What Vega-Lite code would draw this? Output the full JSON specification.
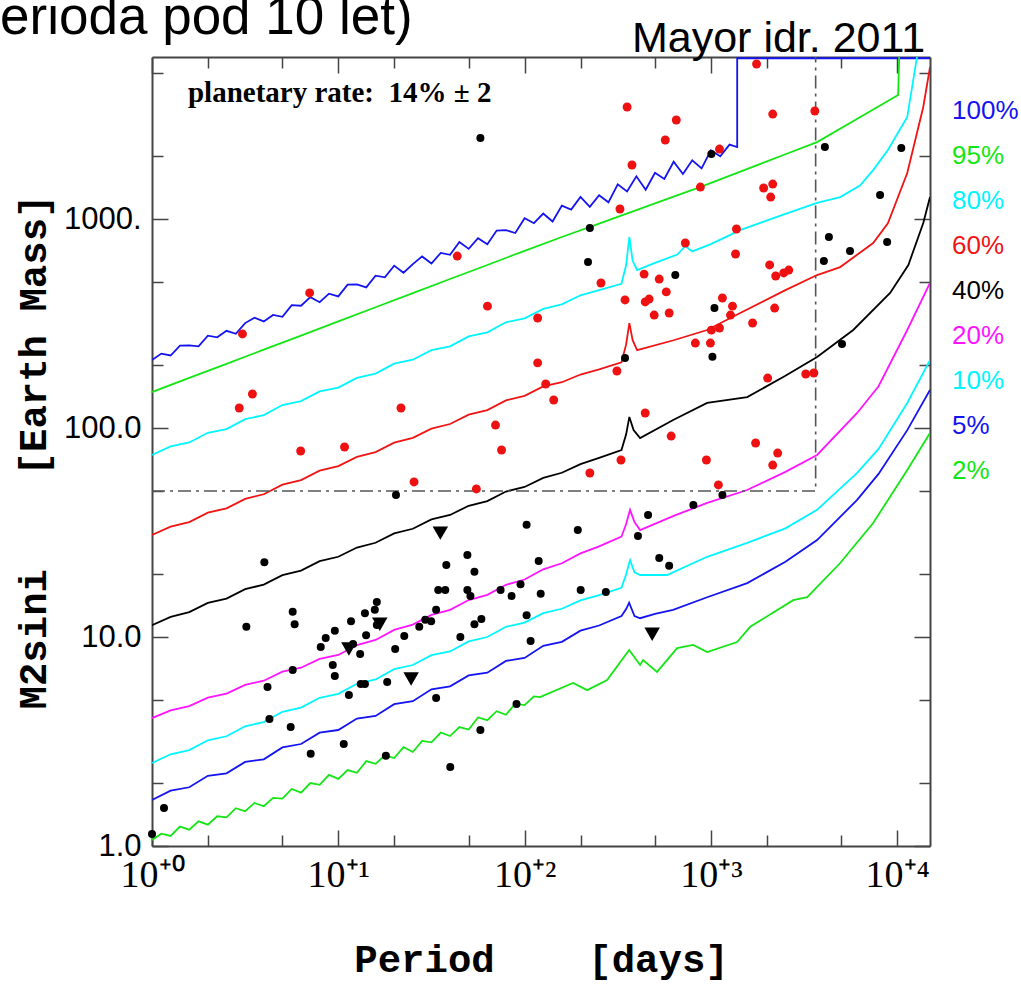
{
  "$schema": "https://vega.github.io/schema/vega-lite/v6.json",
  "width": 778,
  "height": 789,
  "autosize": {"type": "none"},
  "padding": {"left": 152, "top": 57, "right": 91, "bottom": 138},
  "background": "white",
  "config": {"view": {"stroke": null}, "font": "Liberation Sans"},
  "datasets": {
    "curves": [
      {"level":"100%","i":0,"period":1,"mass":211.3},{"level":"100%","i":1,"period":1.122,"mass":227.0},{"level":"100%","i":2,"period":1.259,"mass":222.3},{"level":"100%","i":3,"period":1.413,"mass":247.7},{"level":"100%","i":4,"period":1.585,"mass":248.3},{"level":"100%","i":5,"period":1.778,"mass":246.0},{"level":"100%","i":6,"period":1.995,"mass":276.7},{"level":"100%","i":7,"period":2.239,"mass":271.6},{"level":"100%","i":8,"period":2.512,"mass":291.7},{"level":"100%","i":9,"period":2.818,"mass":282.5},
      {"level":"100%","i":10,"period":3.162,"mass":317.7},{"level":"100%","i":11,"period":3.548,"mass":337.3},{"level":"100%","i":12,"period":3.981,"mass":323.6},{"level":"100%","i":13,"period":4.467,"mass":347.5},{"level":"100%","i":14,"period":5.012,"mass":340.4},{"level":"100%","i":15,"period":5.623,"mass":387.3},{"level":"100%","i":16,"period":6.31,"mass":384.6},{"level":"100%","i":17,"period":7.079,"mass":422.7},{"level":"100%","i":18,"period":7.943,"mass":399.9},{"level":"100%","i":19,"period":8.913,"mass":439.5},
      {"level":"100%","i":20,"period":10,"mass":426.6},{"level":"100%","i":21,"period":11.22,"mass":485.3},{"level":"100%","i":22,"period":12.59,"mass":486.4},{"level":"100%","i":23,"period":14.13,"mass":471.0},{"level":"100%","i":24,"period":15.85,"mass":535.8},{"level":"100%","i":25,"period":17.78,"mass":526.0},{"level":"100%","i":26,"period":19.95,"mass":598.4},{"level":"100%","i":27,"period":22.39,"mass":553.4},{"level":"100%","i":28,"period":25.12,"mass":608.1},{"level":"100%","i":29,"period":28.18,"mass":662.2},
      {"level":"100%","i":30,"period":31.62,"mass":612.4},{"level":"100%","i":31,"period":35.48,"mass":688.6},{"level":"100%","i":32,"period":39.81,"mass":674.5},{"level":"100%","i":33,"period":44.67,"mass":776.2},{"level":"100%","i":34,"period":50.12,"mass":719.5},{"level":"100%","i":35,"period":56.23,"mass":809.1},{"level":"100%","i":36,"period":63.1,"mass":756.8},{"level":"100%","i":37,"period":70.79,"mass":881.0},{"level":"100%","i":38,"period":79.43,"mass":885.1},{"level":"100%","i":39,"period":89.13,"mass":857.0},
      {"level":"100%","i":40,"period":100,"mass":1009},{"level":"100%","i":41,"period":112.2,"mass":955.0},{"level":"100%","i":42,"period":125.9,"mass":1062},{"level":"100%","i":43,"period":141.3,"mass":972.7},{"level":"100%","i":44,"period":158.5,"mass":1159},{"level":"100%","i":45,"period":177.8,"mass":1109},{"level":"100%","i":46,"period":199.5,"mass":1276},{"level":"100%","i":47,"period":223.9,"mass":1143},{"level":"100%","i":48,"period":251.2,"mass":1300},{"level":"100%","i":49,"period":281.8,"mass":1202},
      {"level":"100%","i":50,"period":316.2,"mass":1466},{"level":"100%","i":51,"period":354.8,"mass":1355},{"level":"100%","i":52,"period":398.1,"mass":1600},{"level":"100%","i":53,"period":446.7,"mass":1380},{"level":"100%","i":54,"period":501.2,"mass":1663},{"level":"100%","i":55,"period":562.3,"mass":1556},{"level":"100%","i":56,"period":631,"mass":1879},{"level":"100%","i":57,"period":707.9,"mass":1641},{"level":"100%","i":58,"period":794.3,"mass":1910},{"level":"100%","i":59,"period":891.3,"mass":1746},
      {"level":"100%","i":60,"period":1000,"mass":2133},{"level":"100%","i":61,"period":1122,"mass":1995},{"level":"100%","i":62,"period":1259,"mass":2270},{"level":"100%","i":63,"period":1384,"mass":2208},{"level":"100%","i":64,"period":1384,"mass":5880},{"level":"100%","i":65,"period":15000,"mass":5880},

      {"level":"95%","i":0,"period":1,"mass":148.6},{"level":"95%","i":1,"period":1.585,"mass":173.8},{"level":"95%","i":2,"period":2.512,"mass":202.8},{"level":"95%","i":3,"period":3.981,"mass":237.1},{"level":"95%","i":4,"period":6.31,"mass":276.7},{"level":"95%","i":5,"period":10,"mass":323.6},{"level":"95%","i":6,"period":15.85,"mass":378.4},{"level":"95%","i":7,"period":25.12,"mass":441.6},{"level":"95%","i":8,"period":39.81,"mass":516.4},{"level":"95%","i":9,"period":63.1,"mass":602.6},
      {"level":"95%","i":10,"period":100,"mass":704.7},{"level":"95%","i":11,"period":158.5,"mass":820.4},{"level":"95%","i":12,"period":251.2,"mass":950.6},{"level":"95%","i":13,"period":398.1,"mass":1104},{"level":"95%","i":14,"period":631,"mass":1279},{"level":"95%","i":15,"period":875,"mass":1422},{"level":"95%","i":16,"period":1585,"mass":1742},{"level":"95%","i":17,"period":2512,"mass":2042},{"level":"95%","i":18,"period":3715,"mass":2333},{"level":"95%","i":19,"period":6310,"mass":3069},
      {"level":"95%","i":20,"period":10120,"mass":3917},{"level":"95%","i":21,"period":10250,"mass":5960},

      {"level":"80%","i":0,"period":1,"mass":74.3},{"level":"80%","i":1,"period":1.259,"mass":81.66},{"level":"80%","i":2,"period":1.585,"mass":85.31},{"level":"80%","i":3,"period":1.995,"mass":94.84},{"level":"80%","i":4,"period":2.512,"mass":98.86},{"level":"80%","i":5,"period":3.162,"mass":110.2},{"level":"80%","i":6,"period":3.981,"mass":115.3},{"level":"80%","i":7,"period":5.012,"mass":128.8},{"level":"80%","i":8,"period":6.31,"mass":134.6},{"level":"80%","i":9,"period":7.943,"mass":149.6},
      {"level":"80%","i":10,"period":10,"mass":156.0},{"level":"80%","i":11,"period":12.59,"mass":173.8},{"level":"80%","i":12,"period":15.85,"mass":182.0},{"level":"80%","i":13,"period":19.95,"mass":203.2},{"level":"80%","i":14,"period":25.12,"mass":212.3},{"level":"80%","i":15,"period":31.62,"mass":236.0},{"level":"80%","i":16,"period":39.81,"mass":246.0},{"level":"80%","i":17,"period":50.12,"mass":274.2},{"level":"80%","i":18,"period":63.1,"mass":287.1},{"level":"80%","i":19,"period":79.43,"mass":320.6},
      {"level":"80%","i":20,"period":100,"mass":335.0},{"level":"80%","i":21,"period":125.9,"mass":371.5},{"level":"80%","i":22,"period":158.5,"mass":390.8},{"level":"80%","i":23,"period":199.5,"mass":431.5},{"level":"80%","i":24,"period":251.2,"mass":457.1},{"level":"80%","i":25,"period":331.1,"mass":489.8},{"level":"80%","i":26,"period":350.8,"mass":602.6},{"level":"80%","i":27,"period":365,"mass":820.4},{"level":"80%","i":28,"period":380.2,"mass":631.0},{"level":"80%","i":29,"period":401.8,"mass":570.2},
      {"level":"80%","i":30,"period":501.2,"mass":616.6},{"level":"80%","i":31,"period":660.7,"mass":676.1},{"level":"80%","i":32,"period":729.5,"mass":743.0},{"level":"80%","i":33,"period":794.3,"mass":699.8},{"level":"80%","i":34,"period":1000,"mass":758.6},{"level":"80%","i":35,"period":1436,"mass":885.1},{"level":"80%","i":36,"period":2512,"mass":1059},{"level":"80%","i":37,"period":3715,"mass":1194},{"level":"80%","i":38,"period":4943,"mass":1274},{"level":"80%","i":39,"period":6310,"mass":1445},
      {"level":"80%","i":40,"period":7430,"mass":1714},{"level":"80%","i":41,"period":8913,"mass":2138},{"level":"80%","i":42,"period":11324,"mass":3076},{"level":"80%","i":43,"period":12794,"mass":6026},

      {"level":"60%","i":0,"period":1,"mass":30.76},{"level":"60%","i":1,"period":1.259,"mass":33.73},{"level":"60%","i":2,"period":1.585,"mass":35.48},{"level":"60%","i":3,"period":1.995,"mass":39.36},{"level":"60%","i":4,"period":2.512,"mass":41.3},{"level":"60%","i":5,"period":3.162,"mass":45.81},{"level":"60%","i":6,"period":3.981,"mass":48.19},{"level":"60%","i":7,"period":5.012,"mass":53.58},{"level":"60%","i":8,"period":6.31,"mass":56.36},{"level":"60%","i":9,"period":7.943,"mass":62.52},
      {"level":"60%","i":10,"period":10,"mass":65.77},{"level":"60%","i":11,"period":12.59,"mass":72.78},{"level":"60%","i":12,"period":15.85,"mass":76.74},{"level":"60%","i":13,"period":19.95,"mass":85.11},{"level":"60%","i":14,"period":25.12,"mass":89.74},{"level":"60%","i":15,"period":31.62,"mass":99.31},{"level":"60%","i":16,"period":39.81,"mass":104.5},{"level":"60%","i":17,"period":50.12,"mass":115.9},{"level":"60%","i":18,"period":63.1,"mass":121.9},{"level":"60%","i":19,"period":79.43,"mass":135.5},
      {"level":"60%","i":20,"period":100,"mass":142.6},{"level":"60%","i":21,"period":125.9,"mass":158.1},{"level":"60%","i":22,"period":158.5,"mass":165.6},{"level":"60%","i":23,"period":199.5,"mass":180.3},{"level":"60%","i":24,"period":251.2,"mass":191.0},{"level":"60%","i":25,"period":331.1,"mass":206.1},{"level":"60%","i":26,"period":350.8,"mass":251.2},{"level":"60%","i":27,"period":365,"mass":317.7},{"level":"60%","i":28,"period":380.2,"mass":263.0},{"level":"60%","i":29,"period":401.8,"mass":236.0},
      {"level":"60%","i":30,"period":631,"mass":263.0},{"level":"60%","i":31,"period":955,"mass":294.4},{"level":"60%","i":32,"period":1436,"mass":354.8},{"level":"60%","i":33,"period":2512,"mass":457.1},{"level":"60%","i":34,"period":3715,"mass":539.5},{"level":"60%","i":35,"period":4943,"mass":588.8},{"level":"60%","i":36,"period":7430,"mass":767.4},{"level":"60%","i":37,"period":8913,"mass":955},{"level":"60%","i":38,"period":11324,"mass":1660},{"level":"60%","i":39,"period":13804,"mass":3436},
      {"level":"60%","i":40,"period":15000,"mass":5333},

      {"level":"40%","i":0,"period":1,"mass":11.4},{"level":"40%","i":1,"period":1.259,"mass":12.47},{"level":"40%","i":2,"period":1.585,"mass":13.15},{"level":"40%","i":3,"period":1.995,"mass":14.55},{"level":"40%","i":4,"period":2.512,"mass":15.28},{"level":"40%","i":5,"period":3.162,"mass":16.94},{"level":"40%","i":6,"period":3.981,"mass":17.82},{"level":"40%","i":7,"period":5.012,"mass":19.77},{"level":"40%","i":8,"period":6.31,"mass":20.8},{"level":"40%","i":9,"period":7.943,"mass":23.07},
      {"level":"40%","i":10,"period":10,"mass":24.21},{"level":"40%","i":11,"period":12.59,"mass":26.79},{"level":"40%","i":12,"period":15.85,"mass":28.25},{"level":"40%","i":13,"period":19.95,"mass":31.33},{"level":"40%","i":14,"period":25.12,"mass":32.96},{"level":"40%","i":15,"period":31.62,"mass":36.56},{"level":"40%","i":16,"period":39.81,"mass":38.37},{"level":"40%","i":17,"period":50.12,"mass":42.46},{"level":"40%","i":18,"period":63.1,"mass":44.67},{"level":"40%","i":19,"period":79.43,"mass":49.66},
      {"level":"40%","i":20,"period":100,"mass":52.24},{"level":"40%","i":21,"period":125.9,"mass":57.68},{"level":"40%","i":22,"period":158.5,"mass":61.09},{"level":"40%","i":23,"period":199.5,"mass":67.14},{"level":"40%","i":24,"period":251.2,"mass":71.94},{"level":"40%","i":25,"period":331.1,"mass":78.5},{"level":"40%","i":26,"period":350.8,"mass":93.3},{"level":"40%","i":27,"period":365,"mass":113.0},{"level":"40%","i":28,"period":384.6,"mass":97.7},{"level":"40%","i":29,"period":416.9,"mass":89.5},
      {"level":"40%","i":30,"period":631,"mass":109.6},{"level":"40%","i":31,"period":955,"mass":131.8},{"level":"40%","i":32,"period":1567,"mass":140.6},{"level":"40%","i":33,"period":2512,"mass":177.8},{"level":"40%","i":34,"period":3715,"mass":218.8},{"level":"40%","i":35,"period":5808,"mass":294.4},{"level":"40%","i":36,"period":9162,"mass":442.6},{"level":"40%","i":37,"period":11482,"mass":602.6},{"level":"40%","i":38,"period":13804,"mass":957.2},{"level":"40%","i":39,"period":15000,"mass":1274},

      {"level":"20%","i":0,"period":1,"mass":4.093},{"level":"20%","i":1,"period":1.259,"mass":4.457},{"level":"20%","i":2,"period":1.585,"mass":4.667},{"level":"20%","i":3,"period":1.995,"mass":5.129},{"level":"20%","i":4,"period":2.512,"mass":5.358},{"level":"20%","i":5,"period":3.162,"mass":5.902},{"level":"20%","i":6,"period":3.981,"mass":6.18},{"level":"20%","i":7,"period":5.012,"mass":6.823},{"level":"20%","i":8,"period":6.31,"mass":7.129},{"level":"20%","i":9,"period":7.943,"mass":7.852},
      {"level":"20%","i":10,"period":10,"mass":8.204},{"level":"20%","i":11,"period":12.59,"mass":9.141},{"level":"20%","i":12,"period":15.85,"mass":9.683},{"level":"20%","i":13,"period":19.95,"mass":10.81},{"level":"20%","i":14,"period":25.12,"mass":11.46},{"level":"20%","i":15,"period":31.62,"mass":12.76},{"level":"20%","i":16,"period":39.81,"mass":13.49},{"level":"20%","i":17,"period":50.12,"mass":15.03},{"level":"20%","i":18,"period":63.1,"mass":15.92},{"level":"20%","i":19,"period":79.43,"mass":17.78},
      {"level":"20%","i":20,"period":100,"mass":18.84},{"level":"20%","i":21,"period":125.9,"mass":21.09},{"level":"20%","i":22,"period":158.5,"mass":22.54},{"level":"20%","i":23,"period":199.5,"mass":25.12},{"level":"20%","i":24,"period":251.2,"mass":27.16},{"level":"20%","i":25,"period":331.1,"mass":30.2},{"level":"20%","i":26,"period":350.8,"mass":34.7},{"level":"20%","i":27,"period":368.1,"mass":40.6},{"level":"20%","i":28,"period":389,"mass":35.5},{"level":"20%","i":29,"period":416.9,"mass":32.5},
      {"level":"20%","i":30,"period":631,"mass":38.0},{"level":"20%","i":31,"period":955,"mass":43.8},{"level":"20%","i":32,"period":1567,"mass":50.5},{"level":"20%","i":33,"period":2512,"mass":61.7},{"level":"20%","i":34,"period":3715,"mass":74.3},{"level":"20%","i":35,"period":6095,"mass":118.0},{"level":"20%","i":36,"period":7943,"mass":158.5},{"level":"20%","i":37,"period":11324,"mass":294.4},{"level":"20%","i":38,"period":15000,"mass":494.3},

      {"level":"10%","i":0,"period":1,"mass":2.495},{"level":"10%","i":1,"period":1.259,"mass":2.748},{"level":"10%","i":2,"period":1.585,"mass":2.877},{"level":"10%","i":3,"period":1.995,"mass":3.206},{"level":"10%","i":4,"period":2.512,"mass":3.35},{"level":"10%","i":5,"period":3.162,"mass":3.741},{"level":"10%","i":6,"period":3.981,"mass":3.917},{"level":"10%","i":7,"period":5.012,"mass":4.385},{"level":"10%","i":8,"period":6.31,"mass":4.592},{"level":"10%","i":9,"period":7.943,"mass":5.117},
      {"level":"10%","i":10,"period":10,"mass":5.346},{"level":"10%","i":11,"period":12.59,"mass":5.97},{"level":"10%","i":12,"period":15.85,"mass":6.266},{"level":"10%","i":13,"period":19.95,"mass":7.015},{"level":"10%","i":14,"period":25.12,"mass":7.345},{"level":"10%","i":15,"period":31.62,"mass":8.185},{"level":"10%","i":16,"period":39.81,"mass":8.531},{"level":"10%","i":17,"period":50.12,"mass":9.528},{"level":"10%","i":18,"period":63.1,"mass":10.0},{"level":"10%","i":19,"period":79.43,"mass":11.19},
      {"level":"10%","i":20,"period":100,"mass":11.72},{"level":"10%","i":21,"period":125.9,"mass":13.0},{"level":"10%","i":22,"period":158.5,"mass":13.65},{"level":"10%","i":23,"period":199.5,"mass":14.96},{"level":"10%","i":24,"period":251.2,"mass":15.85},{"level":"10%","i":25,"period":331.1,"mass":17.2},{"level":"10%","i":26,"period":350.8,"mass":19.95},{"level":"10%","i":27,"period":368.1,"mass":23.3},{"level":"10%","i":28,"period":389,"mass":20.4},{"level":"10%","i":29,"period":416.9,"mass":19.8},
      {"level":"10%","i":30,"period":582.1,"mass":19.8},{"level":"10%","i":31,"period":955,"mass":24.2},{"level":"10%","i":32,"period":1567,"mass":28.2},{"level":"10%","i":33,"period":2512,"mass":33.1},{"level":"10%","i":34,"period":3715,"mass":40.6},{"level":"10%","i":35,"period":6095,"mass":61.0},{"level":"10%","i":36,"period":7943,"mass":79.4},{"level":"10%","i":37,"period":11324,"mass":131.8},{"level":"10%","i":38,"period":15000,"mass":211.3},

      {"level":"5%","i":0,"period":1,"mass":1.66},{"level":"5%","i":1,"period":1.259,"mass":1.839},{"level":"5%","i":2,"period":1.585,"mass":1.91},{"level":"5%","i":3,"period":1.995,"mass":2.166},{"level":"5%","i":4,"period":2.512,"mass":2.228},{"level":"5%","i":5,"period":3.162,"mass":2.527},{"level":"5%","i":6,"period":3.981,"mass":2.6},{"level":"5%","i":7,"period":5.012,"mass":2.962},{"level":"5%","i":8,"period":6.31,"mass":3.076},{"level":"5%","i":9,"period":7.943,"mass":3.487},
      {"level":"5%","i":10,"period":10,"mass":3.589},{"level":"5%","i":11,"period":12.59,"mass":4.07},{"level":"5%","i":12,"period":15.85,"mass":4.188},{"level":"5%","i":13,"period":19.95,"mass":4.77},{"level":"5%","i":14,"period":25.12,"mass":4.932},{"level":"5%","i":15,"period":31.62,"mass":5.617},{"level":"5%","i":16,"period":39.81,"mass":5.808},{"level":"5%","i":17,"period":50.12,"mass":6.554},{"level":"5%","i":18,"period":63.1,"mass":6.745},{"level":"5%","i":19,"period":79.43,"mass":7.682},
      {"level":"5%","i":20,"period":100,"mass":7.943},{"level":"5%","i":21,"period":125.9,"mass":9.07},{"level":"5%","i":22,"period":158.5,"mass":9.48},{"level":"5%","i":23,"period":199.5,"mass":10.73},{"level":"5%","i":24,"period":251.2,"mass":11.35},{"level":"5%","i":25,"period":331.1,"mass":12.6},{"level":"5%","i":26,"period":350.8,"mass":13.6},{"level":"5%","i":27,"period":364,"mass":14.6},{"level":"5%","i":28,"period":389,"mass":12.6},{"level":"5%","i":29,"period":416.9,"mass":12.3},
      {"level":"5%","i":30,"period":501.2,"mass":12.9},{"level":"5%","i":31,"period":626.6,"mass":13.5},{"level":"5%","i":32,"period":955,"mass":15.5},{"level":"5%","i":33,"period":1567,"mass":18.1},{"level":"5%","i":34,"period":2512,"mass":22.9},{"level":"5%","i":35,"period":3715,"mass":29.1},{"level":"5%","i":36,"period":6095,"mass":45.3},{"level":"5%","i":37,"period":7943,"mass":60.3},{"level":"5%","i":38,"period":11324,"mass":97.7},{"level":"5%","i":39,"period":15000,"mass":152.1},

      {"level":"2%","i":0,"period":1,"mass":1.069},{"level":"2%","i":1,"period":1.122,"mass":1.146},{"level":"2%","i":2,"period":1.259,"mass":1.117},{"level":"2%","i":3,"period":1.413,"mass":1.239},{"level":"2%","i":4,"period":1.585,"mass":1.197},{"level":"2%","i":5,"period":1.778,"mass":1.312},{"level":"2%","i":6,"period":1.995,"mass":1.265},{"level":"2%","i":7,"period":2.239,"mass":1.387},{"level":"2%","i":8,"period":2.512,"mass":1.371},{"level":"2%","i":9,"period":2.818,"mass":1.517},
      {"level":"2%","i":10,"period":3.162,"mass":1.466},{"level":"2%","i":11,"period":3.548,"mass":1.607},{"level":"2%","i":12,"period":3.981,"mass":1.549},{"level":"2%","i":13,"period":4.467,"mass":1.698},{"level":"2%","i":14,"period":5.012,"mass":1.687},{"level":"2%","i":15,"period":5.623,"mass":1.875},{"level":"2%","i":16,"period":6.31,"mass":1.799},{"level":"2%","i":17,"period":7.079,"mass":2.0},{"level":"2%","i":18,"period":7.943,"mass":1.963},{"level":"2%","i":19,"period":8.913,"mass":2.188},
      {"level":"2%","i":20,"period":10,"mass":2.094},{"level":"2%","i":21,"period":11.22,"mass":2.307},{"level":"2%","i":22,"period":12.59,"mass":2.239},{"level":"2%","i":23,"period":14.13,"mass":2.547},{"level":"2%","i":24,"period":15.85,"mass":2.472},{"level":"2%","i":25,"period":17.78,"mass":2.716},{"level":"2%","i":26,"period":19.95,"mass":2.636},{"level":"2%","i":27,"period":22.39,"mass":2.972},{"level":"2%","i":28,"period":25.12,"mass":2.818},{"level":"2%","i":29,"period":28.18,"mass":3.184},
      {"level":"2%","i":30,"period":31.62,"mass":3.133},{"level":"2%","i":31,"period":35.48,"mass":3.491},{"level":"2%","i":32,"period":39.81,"mass":3.357},{"level":"2%","i":33,"period":44.67,"mass":3.707},{"level":"2%","i":34,"period":50.12,"mass":3.606},{"level":"2%","i":35,"period":56.23,"mass":4.121},{"level":"2%","i":36,"period":63.1,"mass":4.0},{"level":"2%","i":37,"period":70.79,"mass":4.416},{"level":"2%","i":38,"period":79.43,"mass":4.246},{"level":"2%","i":39,"period":89.13,"mass":4.797},
      {"level":"2%","i":40,"period":100,"mass":4.721},{"level":"2%","i":41,"period":112.2,"mass":5.2},{"level":"2%","i":42,"period":121.1,"mass":5.16},{"level":"2%","i":43,"period":182,"mass":6.03},{"level":"2%","i":44,"period":216.8,"mass":5.57},{"level":"2%","i":45,"period":277.3,"mass":6.22},{"level":"2%","i":46,"period":364,"mass":8.67},{"level":"2%","i":47,"period":416.9,"mass":7.35},{"level":"2%","i":48,"period":432.5,"mass":7.76},{"level":"2%","i":49,"period":514,"mass":6.81},
      {"level":"2%","i":50,"period":659.2,"mass":8.85},{"level":"2%","i":51,"period":803.5,"mass":9.16},{"level":"2%","i":52,"period":955,"mass":8.47},{"level":"2%","i":53,"period":1384,"mass":9.46},{"level":"2%","i":54,"period":1626,"mass":11.2},{"level":"2%","i":55,"period":2767,"mass":15.0},{"level":"2%","i":56,"period":3289,"mass":15.5},{"level":"2%","i":57,"period":4943,"mass":22.6},{"level":"2%","i":58,"period":7430,"mass":35.1},{"level":"2%","i":59,"period":11324,"mass":63.0},
      {"level":"2%","i":60,"period":15000,"mass":94.6}
    ],
    "box": [
      {"i":0,"period":1,"mass":50},{"i":1,"period":3650,"mass":50},{"i":2,"period":3650,"mass":5960}
    ],
    "planets": [
      {"kind":"counted","period":3.06,"mass":282},{"kind":"counted","period":3.46,"mass":145.5},{"kind":"counted","period":2.94,"mass":124.7},{"kind":"counted","period":7.02,"mass":443},{"kind":"counted","period":6.28,"mass":77.6},{"kind":"counted","period":10.8,"mass":81.1},{"kind":"counted","period":21.7,"mass":124.7},{"kind":"counted","period":25.5,"mass":55.2},{"kind":"counted","period":43.5,"mass":665},{"kind":"counted","period":55.1,"mass":51.1},
      {"kind":"counted","period":63.2,"mass":383},{"kind":"counted","period":69.8,"mass":103.3},{"kind":"counted","period":75.2,"mass":78.5},{"kind":"counted","period":117.5,"mass":336},{"kind":"counted","period":117.5,"mass":205},{"kind":"counted","period":129.8,"mass":162.4},{"kind":"counted","period":143.3,"mass":136.2},{"kind":"counted","period":224,"mass":60.9},{"kind":"counted","period":257,"mass":494},{"kind":"counted","period":313,"mass":187.4},
      {"kind":"counted","period":325,"mass":1117},{"kind":"counted","period":329,"mass":70.3},{"kind":"counted","period":346,"mass":410},{"kind":"counted","period":355,"mass":3435},{"kind":"counted","period":377,"mass":1813},{"kind":"counted","period":438,"mass":545},{"kind":"counted","period":444,"mass":401},{"kind":"counted","period":466,"mass":414},{"kind":"counted","period":444,"mass":118},{"kind":"counted","period":496,"mass":347},
      {"kind":"counted","period":528,"mass":516},{"kind":"counted","period":569,"mass":2388},{"kind":"counted","period":576,"mass":448},{"kind":"counted","period":597,"mass":355},{"kind":"counted","period":612,"mass":91.5},{"kind":"counted","period":652,"mass":2978},{"kind":"counted","period":729,"mass":768},{"kind":"counted","period":825,"mass":255},{"kind":"counted","period":878,"mass":1422},{"kind":"counted","period":946,"mass":70.3},
      {"kind":"counted","period":994,"mass":255},{"kind":"counted","period":1006,"mass":294},{"kind":"counted","period":1097,"mass":53.4},{"kind":"counted","period":1112,"mass":2162},{"kind":"counted","period":1112,"mass":301},{"kind":"counted","period":1153,"mass":419},{"kind":"counted","period":1274,"mass":347},{"kind":"counted","period":1306,"mass":383},{"kind":"counted","period":1356,"mass":680},{"kind":"counted","period":1372,"mass":896},
      {"kind":"counted","period":1674,"mass":318},{"kind":"counted","period":1738,"mass":84.8},{"kind":"counted","period":1758,"mass":5516},{"kind":"counted","period":1919,"mass":1407},{"kind":"counted","period":2017,"mass":173.4},{"kind":"counted","period":2067,"mass":603},{"kind":"counted","period":2094,"mass":1274},{"kind":"counted","period":2147,"mass":1470},{"kind":"counted","period":2147,"mass":3178},{"kind":"counted","period":2147,"mass":66.5},
      {"kind":"counted","period":2199,"mass":375},{"kind":"counted","period":2228,"mass":534},{"kind":"counted","period":2282,"mass":75.9},{"kind":"counted","period":2460,"mass":552},{"kind":"counted","period":2618,"mass":570},{"kind":"counted","period":3230,"mass":181.3},{"kind":"counted","period":3570,"mass":183.4},{"kind":"counted","period":3614,"mass":3288},

      {"kind":"other","period":1.0,"mass":1.14},{"kind":"other","period":1.16,"mass":1.52},{"kind":"other","period":3.21,"mass":11.2},{"kind":"other","period":4.01,"mass":22.8},{"kind":"other","period":4.17,"mass":5.77},{"kind":"other","period":4.27,"mass":4.05},{"kind":"other","period":5.55,"mass":3.71},{"kind":"other","period":5.69,"mass":13.2},{"kind":"other","period":5.83,"mass":11.5},{"kind":"other","period":5.69,"mass":6.95},
      {"kind":"other","period":7.11,"mass":2.76},{"kind":"other","period":8.05,"mass":8.96},{"kind":"other","period":8.56,"mass":9.89},{"kind":"other","period":9.34,"mass":7.34},{"kind":"other","period":9.58,"mass":6.51},{"kind":"other","period":9.58,"mass":10.7},{"kind":"other","period":10.7,"mass":3.08},{"kind":"other","period":11.4,"mass":5.28},{"kind":"other","period":11.7,"mass":11.9},{"kind":"other","period":12.0,"mass":9.26},
      {"kind":"other","period":13.1,"mass":8.29},{"kind":"other","period":13.2,"mass":5.96},{"kind":"other","period":13.9,"mass":5.96},{"kind":"other","period":13.9,"mass":13.0},{"kind":"other","period":14.1,"mass":10.2},{"kind":"other","period":15.7,"mass":13.5},{"kind":"other","period":16.1,"mass":14.7},{"kind":"other","period":16.1,"mass":11.4},{"kind":"other","period":18.0,"mass":2.7},{"kind":"other","period":18.3,"mass":6.09},
      {"kind":"other","period":20.2,"mass":8.76},{"kind":"other","period":20.4,"mass":47.8},{"kind":"other","period":22.6,"mass":10.1},{"kind":"other","period":27.2,"mass":11.2},{"kind":"other","period":29.3,"mass":12.1},{"kind":"other","period":31.5,"mass":11.9},{"kind":"other","period":33.5,"mass":13.5},{"kind":"other","period":33.5,"mass":5.11},{"kind":"other","period":34.4,"mass":16.8},{"kind":"other","period":37.5,"mass":16.8},
      {"kind":"other","period":38.0,"mass":22.1},{"kind":"other","period":39.9,"mass":2.39},{"kind":"other","period":45.2,"mass":10.0},{"kind":"other","period":49.3,"mass":24.7},{"kind":"other","period":49.3,"mass":16.8},{"kind":"other","period":51.2,"mass":15.7},{"kind":"other","period":53.8,"mass":20.5},{"kind":"other","period":53.8,"mass":11.5},{"kind":"other","period":58.6,"mass":12.2},{"kind":"other","period":57.9,"mass":3.59},
      {"kind":"other","period":57.9,"mass":2442},{"kind":"other","period":74.3,"mass":16.8},{"kind":"other","period":85.1,"mass":15.7},{"kind":"other","period":90.5,"mass":4.78},{"kind":"other","period":95.1,"mass":17.9},{"kind":"other","period":102.5,"mass":34.4},{"kind":"other","period":102.5,"mass":12.7},{"kind":"other","period":107.7,"mass":9.57},{"kind":"other","period":119,"mass":23.1},{"kind":"other","period":122,"mass":16.1},
      {"kind":"other","period":193,"mass":32.5},{"kind":"other","period":200,"mass":16.8},{"kind":"other","period":219,"mass":623},{"kind":"other","period":224,"mass":906},{"kind":"other","period":273,"mass":16.4},{"kind":"other","period":346,"mass":216},{"kind":"other","period":406,"mass":30.4},{"kind":"other","period":460,"mass":38.3},{"kind":"other","period":528,"mass":23.9},{"kind":"other","period":597,"mass":21.9},
      {"kind":"other","period":644,"mass":540},{"kind":"other","period":805,"mass":42.8},{"kind":"other","period":1006,"mass":2046},{"kind":"other","period":1019,"mass":219},{"kind":"other","period":1045,"mass":375},{"kind":"other","period":1153,"mass":47.8},{"kind":"other","period":4040,"mass":630},{"kind":"other","period":4091,"mass":2210},{"kind":"other","period":4300,"mass":820},{"kind":"other","period":5055,"mass":252},
      {"kind":"other","period":5580,"mass":703},{"kind":"other","period":8092,"mass":1303},{"kind":"other","period":8830,"mass":776},{"kind":"other","period":10520,"mass":2187},

      {"kind":"upper","period":35.3,"mass":31.4},{"kind":"upper","period":16.7,"mass":11.5},{"kind":"upper","period":11.4,"mass":8.76},{"kind":"upper","period":24.6,"mass":6.3},{"kind":"upper","period":484,"mass":10.3}
    ]
  },
  "layer": [
    {
      "data": {"name": "curves"},
      "mark": {"type": "line", "strokeWidth": 1.8, "clip": true},
      "encoding": {
        "x": {
          "field": "period", "type": "quantitative",
          "scale": {"type": "log", "domain": [1, 15000], "nice": false},
          "axis": {
            "orient": "bottom",
            "values": [1, 10, 100, 1000, 10000],
            "labelExpr": "datum.value == 1 ? '10⁺⁰' : datum.value == 10 ? '10⁺¹' : datum.value == 100 ? '10⁺²' : datum.value == 1000 ? '10⁺³' : '10⁺⁴'",
            "tickSize": -16, "tickColor": "#444", "tickWidth": 1.5,
            "domainColor": "#444", "domainWidth": 2,
            "grid": false,
            "labelFont": "Liberation Sans Narrow", "labelFontSize": 38, "labelColor": "black",
            "labelPadding": 26, "labelFlush": false, "labelOverlap": false, "labelBound": false,
            "title": "Period\u00a0\u00a0\u00a0\u00a0[days]",
            "titleFont": "Liberation Mono", "titleFontWeight": "bold", "titleFontSize": 39, "titleColor": "black",
            "titlePadding": 46
          }
        },
        "y": {
          "field": "mass", "type": "quantitative",
          "scale": {"type": "log", "domain": [1, 5960], "nice": false},
          "axis": {
            "orient": "left",
            "values": [1, 10, 100, 1000],
            "labelExpr": "datum.value == 1000 ? '1000.' : datum.value == 100 ? '100.0' : datum.value == 10 ? '10.0' : '1.0'",
            "tickSize": -16, "tickColor": "#444", "tickWidth": 1.5,
            "domainColor": "#444", "domainWidth": 2,
            "grid": false,
            "labelFont": "Liberation Sans", "labelFontSize": 31, "labelColor": "black",
            "labelPadding": 27, "labelFlush": false, "labelOverlap": false, "labelBound": false,
            "title": "M2sini\u00a0\u00a0\u00a0\u00a0[Earth Mass]",
            "titleFont": "Liberation Mono", "titleFontWeight": "bold", "titleFontSize": 39, "titleColor": "black",
            "titlePadding": 10
          }
        },
        "color": {
          "field": "level", "type": "nominal",
          "scale": {
            "domain": ["100%", "95%", "80%", "60%", "40%", "20%", "10%", "5%", "2%"],
            "range": ["#1414f0", "#14e614", "#00f5ff", "#f01414", "#000000", "#ff14ff", "#00f5ff", "#1414f0", "#14e614"]
          },
          "legend": {
            "orient": "none", "legendX": 774, "legendY": 41,
            "title": null, "padding": 0,
            "symbolSize": 0, "symbolStrokeWidth": 0, "symbolOpacity": 0,
            "labelFont": "Liberation Sans", "labelFontSize": 26, "labelAlign": "left",
            "labelOffset": 0, "rowPadding": 19, "labelLimit": 200,
            "labelColor": {"expr": "scale('color', datum.value)"}
          }
        },
        "detail": {"field": "level"},
        "order": {"field": "i", "type": "quantitative"}
      }
    },
    {
      "data": {"name": "box"},
      "mark": {"type": "line", "color": "#555555", "strokeWidth": 1.6, "strokeDash": [13, 5, 3, 5]},
      "encoding": {
        "x": {
          "field": "period", "type": "quantitative",
          "scale": {"type": "log", "domain": [1, 15000], "nice": false},
          "axis": {
            "orient": "top", "labels": false, "title": null, "grid": false,
            "values": [1, 10, 100, 1000, 10000],
            "tickSize": -16, "tickColor": "#444", "tickWidth": 1.5, "domainColor": "#444", "domainWidth": 2
          }
        },
        "y": {
          "field": "mass", "type": "quantitative",
          "scale": {"type": "log", "domain": [1, 5960], "nice": false},
          "axis": {
            "orient": "right", "labels": false, "title": null, "grid": false,
            "values": [1, 10, 100, 1000],
            "tickSize": -16, "tickColor": "#444", "tickWidth": 1.5, "domainColor": "#444", "domainWidth": 2
          }
        },
        "order": {"field": "i", "type": "quantitative"}
      }
    },
    {
      "data": {"name": "planets"},
      "mark": {"type": "point", "filled": true, "opacity": 1, "strokeWidth": 0},
      "encoding": {
        "x": {
          "field": "period", "type": "quantitative",
          "scale": {"type": "log", "domain": [1, 15000], "nice": false},
          "axis": {
            "orient": "bottom", "labels": false, "title": null, "grid": false, "domain": false,
            "values": [2, 5, 20, 50, 200, 500, 2000, 5000],
            "tickSize": -11, "tickColor": "#444", "tickWidth": 1.5
          }
        },
        "y": {
          "field": "mass", "type": "quantitative",
          "scale": {"type": "log", "domain": [1, 5960], "nice": false},
          "axis": {
            "orient": "left", "labels": false, "title": null, "grid": false, "domain": false,
            "values": [2, 5, 20, 50, 200, 500, 2000, 5000],
            "tickSize": -11, "tickColor": "#444", "tickWidth": 1.5
          }
        },
        "fill": {"field": "kind", "type": "nominal", "scale": {"domain": ["counted", "other", "upper"], "range": ["#ee1111", "#000000", "#000000"]}, "legend": null},
        "shape": {"field": "kind", "type": "nominal", "scale": {"domain": ["counted", "other", "upper"], "range": ["circle", "circle", "triangle-down"]}, "legend": null},
        "size": {"field": "kind", "type": "nominal", "scale": {"type": "ordinal", "domain": ["counted", "other", "upper"], "range": [80, 64, 240]}, "legend": null}
      }
    },
    {
      "data": {"values": [{"note": "planetary rate:\u00a0\u00a014% ± 2"}]},
      "mark": {"type": "text", "align": "left", "baseline": "alphabetic", "font": "Liberation Serif", "fontWeight": "bold", "fontSize": 29, "color": "black"},
      "encoding": {
        "x": {
          "datum": 1.56, "type": "quantitative",
          "scale": {"type": "log", "domain": [1, 15000], "nice": false},
          "axis": {
            "orient": "top", "labels": false, "title": null, "grid": false, "domain": false,
            "values": [2, 5, 20, 50, 200, 500, 2000, 5000],
            "tickSize": -11, "tickColor": "#444", "tickWidth": 1.5
          }
        },
        "y": {
          "datum": 3631, "type": "quantitative",
          "scale": {"type": "log", "domain": [1, 5960], "nice": false},
          "axis": {
            "orient": "right", "labels": false, "title": null, "grid": false, "domain": false,
            "values": [2, 5, 20, 50, 200, 500, 2000, 5000],
            "tickSize": -11, "tickColor": "#444", "tickWidth": 1.5
          }
        },
        "text": {"field": "note"}
      }
    },
    {
      "data": {"values": [{"note": "Mayor idr. 2011"}]},
      "mark": {"type": "text", "align": "right", "baseline": "alphabetic", "font": "Liberation Sans", "fontSize": 43, "color": "black"},
      "encoding": {
        "x": {"datum": 14130, "type": "quantitative", "scale": {"type": "log", "domain": [1, 15000], "nice": false}, "axis": null},
        "y": {"datum": 6300, "type": "quantitative", "scale": {"type": "log", "domain": [1, 5960], "nice": false}, "axis": null},
        "text": {"field": "note"}
      }
    },
    {
      "data": {"values": [{"note": "erioda pod 10 let)"}]},
      "mark": {"type": "text", "align": "left", "baseline": "alphabetic", "font": "Liberation Sans", "fontSize": 53, "color": "black"},
      "encoding": {
        "x": {"datum": 0.153, "type": "quantitative", "scale": {"type": "log", "domain": [1, 15000], "nice": false}, "axis": null},
        "y": {"datum": 7674, "type": "quantitative", "scale": {"type": "log", "domain": [1, 5960], "nice": false}, "axis": null},
        "text": {"field": "note"}
      }
    }
  ],
  "resolve": {"axis": {"x": "independent", "y": "independent"}}
}
